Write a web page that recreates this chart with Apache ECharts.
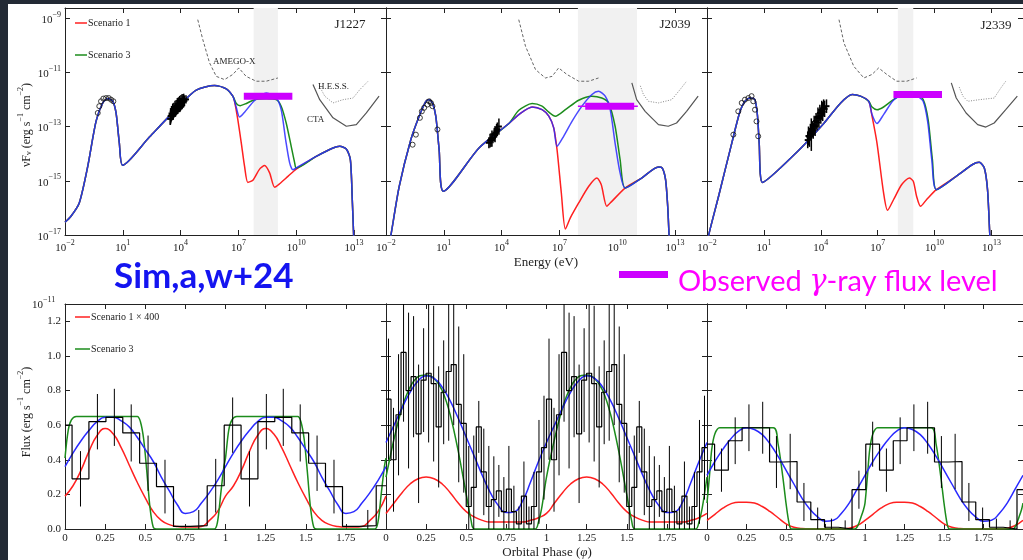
<!DOCTYPE html>
<html>
<head>
<meta charset="utf-8">
<script src="https://cdn.jsdelivr.net/npm/echarts@6/dist/echarts.min.js"></script>
<style>
  html, body { margin: 0; padding: 0; background: #232a35; }
  #chart { width: 1023px; height: 560px; }
</style>
</head>
<body>
<div id="chart"></div>
<script>
// ---------- top row: SED, stored as [log10(E / eV), log10(nuFnu)] ----------
const sources = ['J1227', 'J2039', 'J2339'];
const sedTicksX = [-2, 1, 4, 7, 10, 13];
const sedTicksY = [-17, -15, -13, -11, -9];

// J1227
const j1227Common = [[-2.0,-16.53],[-1.69,-16.31],[-1.26,-15.82],[-0.82,-14.47],[-0.39,-12.81],[-0.04,-12.13],[0.22,-11.97],[0.48,-12.07],[0.65,-12.5],[0.82,-13.61],[0.995,-14.43],[2.38,-13.39],[3.94,-12.23],[4.81,-11.66],[5.76,-11.49],[6.37,-11.61],[6.71,-11.88]];
const j1227Red = [[6.8,-12.07],[6.97,-12.75],[7.15,-13.61],[7.32,-14.47],[7.49,-15.06],[7.75,-14.98],[8.1,-14.57],[8.36,-14.44],[8.62,-14.71],[8.88,-15.24],[9.14,-15.11],[9.57,-14.84],[10.0,-14.57]];
const j1227Green = [[6.89,-12.15],[7.09,-12.23],[7.41,-12.15],[7.84,-12.01],[8.45,-11.98],[8.96,-12.01],[9.22,-12.25],[9.48,-12.87],[9.74,-13.73],[9.92,-14.34],[10.0,-14.53]];
const j1227Blue = [[6.89,-12.3],[7.06,-12.65],[7.32,-12.47],[7.84,-12.04],[8.45,-11.76],[8.96,-11.95],[9.22,-12.38],[9.45,-13.48],[9.66,-14.34],[9.83,-14.59],[10.0,-14.53]];
const j1227Tail = [[11.04,-14.1],[11.91,-13.79],[12.26,-13.73],[12.6,-13.83],[12.81,-14.22],[12.91,-15.7],[12.98,-17.0],[13.0,-17.5]];
const j1227Optical = [[-0.3,-12.5],[-0.22,-12.25],[-0.13,-12.07],[-0.01,-11.97],[0.13,-11.95],[0.27,-11.95],[0.39,-12.01],[0.51,-12.07]];
const j1227Xray = [[3.46,-12.72,0.22],[3.48,-12.62,0.3],[3.5,-12.6,0.25],[3.53,-12.52,0.28],[3.56,-12.55,0.2],[3.59,-12.45,0.3],[3.62,-12.5,0.25],[3.65,-12.4,0.28],[3.68,-12.42,0.22],[3.71,-12.35,0.3],[3.74,-12.38,0.25],[3.77,-12.3,0.28],[3.8,-12.33,0.2],[3.83,-12.25,0.3],[3.86,-12.28,0.25],[3.89,-12.2,0.28],[3.92,-12.24,0.22],[3.95,-12.17,0.3],[3.98,-12.2,0.25],[4.02,-12.12,0.28],[4.05,-12.15,0.2],[4.08,-12.08,0.28],[4.12,-12.1,0.22],[4.16,-12.04,0.25],[4.2,-12.05,0.2],[4.28,-12.0,0.15]];
const j1227Band = [7.79, 9.05];
const j1227Obs = [[7.28,-11.88],[9.8,-11.88]];

// J2039
const j2039Common = [[-1.9,-17.6],[-1.743,-17.0],[-1.313,-15.21],[-0.709,-13.48],[-0.278,-12.62],[0.067,-12.07],[0.239,-12.01],[0.412,-12.13],[0.584,-12.62],[0.757,-13.85],[0.981,-15.39],[2.825,-13.79],[4.377,-12.89]];
const j2039Red = [[4.894,-12.56],[5.584,-12.28],[6.1,-12.38],[6.45,-12.62],[6.705,-13.05],[6.877,-13.85],[7.1,-15.45],[7.31,-16.78],[7.567,-16.37],[8.0,-15.82],[8.515,-15.21],[8.946,-14.9],[9.17,-15.14],[9.46,-15.94],[9.72,-15.76],[10.41,-15.27]];
const j2039Green = [[4.894,-12.4],[5.584,-12.155],[6.1,-12.25],[6.45,-12.47],[6.79,-12.62],[7.31,-12.38],[8.0,-12.03],[8.687,-11.88],[9.2,-11.95],[9.55,-12.13],[9.89,-12.99],[10.15,-14.22],[10.41,-15.27]];
const j2039Blue = [[4.894,-12.56],[5.584,-12.28],[6.1,-12.38],[6.45,-12.62],[6.705,-13.05],[6.877,-13.73],[7.22,-13.36],[7.653,-12.81],[8.17,-12.25],[8.687,-11.82],[9.03,-11.7],[9.377,-11.88],[9.636,-12.38],[9.89,-13.61],[10.15,-14.71],[10.41,-15.27]];
const j2039Tail = [[11.27,-14.9],[12.14,-14.49],[12.34,-14.53],[12.51,-14.96],[12.62,-15.94],[12.69,-17.0],[12.72,-17.5]];
const j2039Optical = [[-0.62,-13.67],[-0.45,-13.3],[-0.24,-12.68],[-0.14,-12.44],[-0.02,-12.31],[0.15,-12.19],[0.24,-12.07],[0.33,-12.13],[0.41,-12.25],[0.67,-13.11]];
const j2039Xray = [[3.34,-13.6,0.2],[3.4,-13.52,0.25],[3.45,-13.5,0.25],[3.5,-13.45,0.3],[3.55,-13.42,0.2],[3.62,-13.3,0.25],[3.66,-13.28,0.3],[3.7,-13.22,0.2],[3.74,-13.15,0.25],[3.78,-13.1,0.25],[3.86,-13.0,0.3]];
const j2039Band = [7.96, 11.03];
const j2039Obs = [[8.34,-12.25],[10.88,-12.25]];
const j2039ObsThin = [[7.96,-12.25],[11.07,-12.25]];

// J2339
const j2339Common = [[-2.0,-17.4],[-1.911,-17.0],[-1.389,-15.57],[-0.693,-13.61],[-0.258,-12.44],[0.003,-12.07],[0.264,-11.95],[0.525,-12.01],[0.664,-12.62],[0.751,-13.61],[0.925,-15.06],[2.786,-13.91],[4.178,-12.87],[5.048,-12.13],[5.657,-11.82],[6.092,-11.88],[6.527,-12.07]];
const j2339Red = [[6.701,-12.62],[6.962,-13.61],[7.31,-15.45],[7.518,-16.09],[7.832,-15.7],[8.267,-15.14],[8.667,-14.9],[8.875,-15.02],[9.049,-15.57],[9.258,-15.94],[9.571,-15.7],[10.093,-15.33]];
const j2339Green = [[6.701,-12.28],[6.962,-12.38],[7.31,-12.28],[7.832,-12.01],[8.354,-11.82],[9.049,-11.86],[9.397,-12.01],[9.658,-12.75],[9.884,-14.22],[10.093,-15.33]];
const j2339Blue = [[6.701,-12.56],[6.962,-12.89],[7.31,-12.56],[7.832,-12.03],[8.354,-11.84],[9.049,-11.88],[9.397,-12.07],[9.64,-12.85],[9.85,-14.22],[10.093,-15.33]];
const j2339Tail = [[11.137,-14.84],[12.0,-14.4],[12.35,-14.32],[12.62,-14.53],[12.79,-15.33],[12.91,-17.0],[12.95,-17.5]];
const j2339Optical = [[-0.61,-13.3],[-0.35,-12.44],[-0.17,-12.13],[0.0,-12.01],[0.18,-11.95],[0.35,-11.88],[0.44,-12.07],[0.53,-12.38],[0.61,-12.81],[0.7,-13.36]];
const j2339Xray = [[3.31,-13.5,0.3],[3.35,-13.35,0.35],[3.4,-13.4,0.35],[3.45,-13.2,0.3],[3.5,-13.3,0.6],[3.55,-13.1,0.3],[3.6,-13.15,0.3],[3.65,-12.95,0.35],[3.7,-13.0,0.35],[3.75,-12.8,0.3],[3.8,-12.85,0.3],[3.85,-12.65,0.35],[3.9,-12.7,0.35],[3.95,-12.5,0.3],[4.0,-12.6,0.3],[4.05,-12.4,0.35],[4.1,-12.45,0.35],[4.15,-12.3,0.3],[4.2,-12.35,0.3],[4.3,-12.25,0.25]];
const j2339Band = [8.06, 8.875];
const j2339Obs = [[7.83,-11.82],[10.39,-11.82]];

// instrument sensitivities
const amego = [
  [[4.89,-9.06],[5.15,-9.79],[5.5,-10.65],[5.85,-11.15],[6.28,-11.27],[6.71,-11.08],[7.02,-10.84],[7.4,-11.15],[7.92,-11.33],[8.44,-11.33],[9.05,-11.21]],
  [[4.89,-9.06],[5.24,-10.04],[5.76,-10.9],[6.27,-11.21],[6.62,-11.15],[6.96,-10.84],[7.39,-11.08],[8.0,-11.33],[8.52,-11.33],[9.03,-11.21]],
  [[4.96,-9.06],[5.22,-9.92],[5.74,-10.78],[6.27,-11.21],[6.7,-11.08],[7.05,-10.84],[7.48,-11.08],[8.0,-11.33],[8.53,-11.33],[9.05,-11.21]]
];
const hess = [
  [[11.2,-11.5],[11.48,-11.88],[11.91,-12.13],[12.43,-12.01],[12.95,-11.95],[13.3,-11.64],[13.73,-11.33]],
  [[11.2,-11.5],[11.36,-11.82],[11.62,-12.07],[12.14,-12.13],[12.83,-12.01],[13.26,-11.64],[13.6,-11.33]],
  [[11.3,-11.55],[11.49,-11.88],[11.75,-12.07],[12.36,-12.01],[13.14,-11.95],[13.49,-11.58],[13.75,-11.33]]
];
const cta = [
  [[10.87,-11.45],[11.22,-12.01],[11.91,-12.68],[12.6,-12.99],[13.12,-12.93],[13.64,-12.5],[14.3,-11.88]],
  [[10.76,-11.39],[11.01,-12.01],[11.45,-12.44],[12.14,-12.93],[12.65,-12.99],[13.08,-12.87],[13.6,-12.44],[14.2,-11.88]],
  [[10.88,-11.39],[11.14,-11.95],[11.66,-12.5],[12.27,-12.93],[12.7,-13.02],[13.14,-12.87],[13.75,-12.38],[14.36,-11.88]]
];

// ---------- bottom row: light curves, flux in 1e-11 erg/s/cm2 ----------
const phaseTicks = [0, 0.25, 0.5, 0.75, 1, 1.25, 1.5, 1.75];
const fluxTicks = [0, 0.2, 0.4, 0.6, 0.8, 1.0, 1.2];
const cyclePhase = [0,0.05,0.1,0.15,0.2,0.25,0.3,0.35,0.4,0.45,0.5,0.55,0.6,0.65,0.7,0.75,0.8,0.85,0.9,0.95];

const red1 = [0.19,0.25,0.34,0.45,0.54,0.58,0.55,0.47,0.37,0.27,0.18,0.10,0.05,0.025,0.015,0.012,0.012,0.015,0.05,0.10];
const blue1 = [0.36,0.44,0.51,0.57,0.62,0.645,0.645,0.625,0.59,0.53,0.46,0.39,0.30,0.22,0.14,0.09,0.10,0.15,0.21,0.28];
const green1 = [[0,0.41],[0.02,0.57],[0.04,0.63],[0.07,0.65],[0.45,0.65],[0.47,0.62],[0.49,0.52],[0.51,0.33],[0.53,0.12],[0.55,0.01],[0.57,0],[0.93,0],[0.95,0.04],[0.97,0.2],[0.99,0.36]];
const red2 = [0.09,0.15,0.21,0.26,0.29,0.30,0.29,0.26,0.21,0.15,0.10,0.07,0.05,0.04,0.04,0.04,0.04,0.04,0.05,0.065];
const blue2 = [0.50,0.60,0.70,0.79,0.855,0.885,0.87,0.82,0.74,0.64,0.53,0.42,0.31,0.21,0.135,0.095,0.10,0.16,0.27,0.39];
const green2 = [[0,0.30],[0.05,0.52],[0.1,0.70],[0.15,0.82],[0.2,0.88],[0.25,0.89],[0.3,0.87],[0.35,0.80],[0.4,0.66],[0.45,0.45],[0.5,0.20],[0.53,0.05],[0.55,0],[0.93,0],[0.95,0.04],[0.97,0.12]];
const red3 = [0.05,0.085,0.12,0.145,0.155,0.155,0.15,0.13,0.10,0.065,0.03,0.01,0.003,0.002,0.002,0.002,0.002,0.002,0.005,0.02];
const blue3 = [0.31,0.39,0.46,0.52,0.565,0.585,0.575,0.545,0.49,0.42,0.34,0.26,0.18,0.115,0.07,0.045,0.05,0.09,0.15,0.23];
const green3 = [[0,0.15],[0.015,0.30],[0.03,0.46],[0.05,0.55],[0.08,0.585],[0.42,0.585],[0.45,0.49],[0.48,0.30],[0.5,0.15],[0.52,0.03],[0.535,0],[0.935,0],[0.955,0.02],[0.975,0.07],[0.99,0.11]];

// binned data: bin edges, level per bin, error half-size per bin (null = no bar)
const lc1Edges = [0,0.044,0.149,0.255,0.36,0.465,0.57,0.676,0.781,0.886,0.992,1.097,1.202,1.307,1.413,1.518,1.623,1.729,1.834,1.939,2.0];
const lc1Level = [0.60,0.29,0.62,0.645,0.555,0.38,0.245,0.015,0.02,0.25,0.60,0.29,0.62,0.645,0.555,0.38,0.245,0.015,0.02,0.25];
const lc1Err = [null,0.16,0.16,0.165,0.165,0.16,0.155,null,0.09,0.155,0.16,0.16,0.16,0.165,0.165,0.16,0.155,null,0.09,null];

const lc2Edges = [0,0.03125,0.0625,0.09375,0.125,0.15625,0.1875,0.21875,0.25,0.28125,0.3125,0.34375,0.375,0.40625,0.4375,0.46875,0.5,0.53125,0.5625,0.59375,0.625,0.65625,0.6875,0.71875,0.75,0.78125,0.8125,0.84375,0.875,0.90625,0.9375,0.96875,
  1,1.03125,1.0625,1.09375,1.125,1.15625,1.1875,1.21875,1.25,1.28125,1.3125,1.34375,1.375,1.40625,1.4375,1.46875,1.5,1.53125,1.5625,1.59375,1.625,1.65625,1.6875,1.71875,1.75,1.78125,1.8125,1.84375,1.875,1.90625,1.9375,1.96875,2.0];
const lc2Level = [0.75,0.40,0.66,1.02,0.80,0.88,0.55,0.86,0.90,0.84,0.59,0.79,0.91,0.95,0.72,0.61,0.13,0.24,0.59,0.33,0.13,0.17,0.22,0.10,0.23,0.10,0.03,0.19,0.03,0.13,0.33,0.47,
  0.75,0.40,0.66,1.02,0.80,0.88,0.55,0.86,0.90,0.84,0.59,0.79,0.91,0.95,0.72,0.61,0.13,0.24,0.59,0.33,0.13,0.17,0.22,0.10,0.23,0.10,0.03,0.19,0.03,0.13,0.33,0.47];
const lc2Err = [0.35,0.3,0.35,0.4,0.45,0.35,0.4,0.3,0.4,0.45,0.35,0.3,0.4,0.35,0.45,0.4,0.35,0.3,0.15,0.25,0.35,0.25,0.15,0.2,0.25,0.15,0.1,0.2,0.1,0.2,0.3,0.3,
  0.35,0.3,0.35,0.4,0.45,0.35,0.4,0.3,0.4,0.45,0.35,0.3,0.4,0.35,0.45,0.4,0.35,0.3,0.15,0.25,0.35,0.25,0.15,0.2,0.25,0.15,0.1,0.2,0.1,0.2,0.3,0.3];

const lc3Edges = [0,0.048,0.135,0.222,0.309,0.396,0.483,0.57,0.657,0.744,0.831,0.918,1.005,1.092,1.179,1.266,1.353,1.44,1.527,1.614,1.701,1.788,1.875,1.962,2.0];
const lc3Level = [0.49,0.34,0.51,0.585,0.585,0.387,0.39,0.156,0.054,0.01,0.0,0.227,0.49,0.34,0.51,0.585,0.585,0.387,0.39,0.156,0.054,0.01,0.0,0.227];
const lc3Err = [null,0.125,0.135,0.135,0.15,0.15,0.16,0.11,0.07,0.05,0.05,0.11,0.13,0.125,0.135,0.135,0.15,0.15,0.16,0.11,0.07,0.05,0.05,null];

// ---------- layout ----------
const SERIF = '"Liberation Serif","DejaVu Serif",serif';
const INK = '#222';
const RED = '#ff2020', GREEN = '#1c8c1c', BLUE = '#2a2aff', OBS = '#cc00ff', PINK = '#ff00ff';
const colLeft = [65, 386, 707];
const colW = 321;
const sedRange = { x: [-2, 14.66], y: [-17, -8.63] };
const lcRange = { x: [0, 2], y: [0, 1.3] };

const grids = [];
const xAxes = [];
const yAxes = [];
const series = [];

const supRich = {
  b: { fontSize: 11, fontFamily: SERIF, color: INK, fill: INK, verticalAlign: 'bottom', padding: [4, 0, 0, 0] },
  s: { fontSize: 8, fontFamily: SERIF, color: INK, fill: INK, verticalAlign: 'top' }
};
const powFmt = v => '{b|10}{s|' + String(v).replace('-', '\u2212') + '}';

function addAxes(g, range, xt, yt, xFmt, yFmt, showY) {
  const common = {
    type: 'value', gridIndex: g, splitLine: { show: false },
    axisLine: { show: true, onZero: false, lineStyle: { color: INK, width: 1 } }
  };
  const tick = vals => ({ show: true, inside: true, length: 5, customValues: vals, lineStyle: { color: INK } });
  const lab = (vals, fmt, show) => ({
    show, customValues: vals, formatter: fmt, interval: 0, rich: supRich,
    color: INK, fontFamily: SERIF, fontSize: 11, margin: 4
  });
  xAxes.push(Object.assign({}, common, { min: range.x[0], max: range.x[1], position: 'bottom', axisTick: tick(xt), axisLabel: lab(xt, xFmt, true) }));
  xAxes.push(Object.assign({}, common, { min: range.x[0], max: range.x[1], position: 'top', axisTick: tick(xt), axisLabel: { show: false } }));
  yAxes.push(Object.assign({}, common, { min: range.y[0], max: range.y[1], position: 'left', axisTick: tick(yt), axisLabel: lab(yt, yFmt, showY) }));
  yAxes.push(Object.assign({}, common, { min: range.y[0], max: range.y[1], position: 'right', axisTick: tick(yt), axisLabel: { show: false } }));
}

function addLine(g, data, color, width, extra) {
  series.push(Object.assign({
    type: 'line', xAxisIndex: 2 * g, yAxisIndex: 2 * g, data, symbol: 'none',
    clip: true, silent: true, z: 3, lineStyle: { color, width }
  }, extra || {}));
}

function addErrors(g, data, hw, z, lw) {
  series.push({
    type: 'custom', xAxisIndex: 2 * g, yAxisIndex: 2 * g, clip: true, silent: true, z: z || 4,
    encode: { x: 0, y: [1, 2] }, data,
    renderItem: (params, api) => {
      const x = api.value(0);
      const a = api.coord([x, api.value(1)]);
      const b = api.coord([x, api.value(2)]);
      const kids = [{ type: 'line', shape: { x1: a[0], y1: a[1], x2: b[0], y2: b[1] }, style: { stroke: '#000', lineWidth: lw || 1 } }];
      if (hw) {
        const m = api.coord([x, (api.value(1) + api.value(2)) / 2]);
        kids.push({ type: 'line', shape: { x1: m[0] - hw, y1: m[1], x2: m[0] + hw, y2: m[1] }, style: { stroke: '#000', lineWidth: 2 } });
      }
      return { type: 'group', children: kids };
    }
  });
}

function addBand(g, band, range) {
  series.push({
    type: 'custom', xAxisIndex: 2 * g, yAxisIndex: 2 * g, clip: true, silent: true, z: 1,
    encode: { x: [0, 1] }, data: [band],
    renderItem: (params, api) => {
      const a = api.coord([api.value(0), range.y[1]]);
      const b = api.coord([api.value(1), range.y[0]]);
      return { type: 'rect', shape: { x: a[0], y: a[1], width: b[0] - a[0], height: b[1] - a[1] }, style: { fill: '#f1f1f1' } };
    }
  });
}

// ---------- SED panels ----------
const sedSets = [
  [j1227Common, j1227Red, j1227Green, j1227Blue, j1227Tail, j1227Optical, j1227Xray, j1227Band, j1227Obs],
  [j2039Common, j2039Red, j2039Green, j2039Blue, j2039Tail, j2039Optical, j2039Xray, j2039Band, j2039Obs],
  [j2339Common, j2339Red, j2339Green, j2339Blue, j2339Tail, j2339Optical, j2339Xray, j2339Band, j2339Obs]
];

sedSets.forEach((s, g) => {
  const [common, red, green, blue, tail, optical, xray, band, obs] = s;
  grids.push({ left: colLeft[g], top: 8, width: colW, height: 227 });
  addAxes(g, sedRange, sedTicksX, sedTicksY, powFmt, powFmt, g === 0);
  addBand(g, band, sedRange);
  addLine(g, amego[g], '#666', 1, { lineStyle: { color: '#666', width: 1, type: [3, 2] } });
  addLine(g, hess[g], '#888', 1, { lineStyle: { color: '#888', width: 1, type: [1, 1.5] } });
  addLine(g, cta[g], '#555', 1.2);
  addLine(g, common.concat(red, tail), RED, 1.5, { smooth: 0.25 });
  addLine(g, common.concat(green, tail), GREEN, 1.5, { smooth: 0.25 });
  addLine(g, common.concat(blue, tail), BLUE, 1.5, { smooth: 0.25, lineStyle: { color: BLUE, width: 1.5, opacity: 0.85 } });
  addLine(g, obs, OBS, 7, { z: 6, lineStyle: { color: OBS, width: 7, cap: 'butt' } });
  if (g === 1) addLine(g, j2039ObsThin, OBS, 2, { z: 6, lineStyle: { color: OBS, width: 1.5, cap: 'butt' } });
  series.push({
    type: 'scatter', xAxisIndex: 2 * g, yAxisIndex: 2 * g, data: optical, symbol: 'circle', symbolSize: 5,
    silent: true, z: 5, itemStyle: { color: 'rgba(255,255,255,0)', borderColor: '#111', borderWidth: 1 }
  });
  addErrors(g, xray.map(p => [p[0], p[1] - p[2], p[1] + p[2]]), 3, 5, 1.5);
});

// ---------- light-curve panels ----------
function twoCycles(vals) {
  const out = [];
  [0, 1].forEach(c => cyclePhase.forEach((p, i) => out.push([p + c, vals[i]])));
  out.push([2, vals[0]]);
  return out;
}
function twoCyclePairs(pairs) {
  const out = [];
  [0, 1].forEach(c => pairs.forEach(p => out.push([p[0] + c, p[1]])));
  out.push([2, pairs[0][1]]);
  return out;
}
function steps(edges, level) {
  const pts = level.map((v, i) => [edges[i], v]);
  pts.push([edges[edges.length - 1], level[level.length - 1]]);
  return pts;
}
function binBars(edges, level, err) {
  const out = [];
  level.forEach((v, i) => {
    if (err[i] == null) return;
    const c = (edges[i] + edges[i + 1]) / 2;
    out.push([c, Math.max(0, v - err[i]), v + err[i]]);
  });
  return out;
}

const lcSets = [
  [red1, green1, blue1, lc1Edges, lc1Level, lc1Err],
  [red2, green2, blue2, lc2Edges, lc2Level, lc2Err],
  [red3, green3, blue3, lc3Edges, lc3Level, lc3Err]
];
const fmtPhase = v => (v === 2 ? '' : String(v));
const fmtFlux = v => v.toFixed(1);

lcSets.forEach((s, k) => {
  const g = k + 3;
  const [red, green, blue, edges, level, err] = s;
  grids.push({ left: colLeft[k], top: 304, width: colW, height: 225 });
  addAxes(g, lcRange, phaseTicks, fluxTicks, fmtPhase, fmtFlux, k === 0);
  addErrors(g, binBars(edges, level, err), 0, 4);
  addLine(g, steps(edges, level), '#000', 1.2, { step: 'end', z: 4 });
  addLine(g, twoCycles(red), RED, 1.5, { smooth: true });
  addLine(g, twoCyclePairs(green), GREEN, 1.5, { smooth: 0.3 });
  addLine(g, twoCycles(blue), BLUE, 1.5, { smooth: true });
});

// ---------- text and decorations ----------
const axisRich = {
  a: { fontSize: 12, fontFamily: SERIF, fill: INK, verticalAlign: 'bottom', padding: [4, 0, 0, 0] },
  sup: { fontSize: 8, fontFamily: SERIF, fill: INK, verticalAlign: 'top' },
  sub: { fontSize: 8, fontFamily: SERIF, fill: INK, verticalAlign: 'bottom' }
};
const txt = (x, y, text, size, align) => ({
  type: 'text', x, y, silent: true, z: 20,
  style: { text, fill: INK, font: size + 'px ' + SERIF, align: align || 'left', verticalAlign: 'middle' }
});
const seg = (x1, x2, y, color) => ({
  type: 'line', silent: true, z: 20, shape: { x1, y1: y, x2, y2: y }, style: { stroke: color, lineWidth: 1.5 }
});

const graphic = [
  { type: 'rect', silent: true, z: 30, shape: { x: 0, y: 0, width: 8, height: 560 }, style: { fill: '#232a35' } },
  { type: 'rect', silent: true, z: 30, shape: { x: 0, y: 0, width: 1023, height: 4 }, style: { fill: '#232a35' } },
  txt(350, 25, sources[0], 13, 'center'),
  txt(675, 25, sources[1], 13, 'center'),
  txt(996, 26, sources[2], 13, 'center'),
  seg(75, 87, 23, RED), txt(88, 23, 'Scenario 1', 10),
  seg(75, 87, 55, GREEN), txt(88, 55, 'Scenario 3', 10),
  seg(75, 90, 317, RED), txt(91, 317, 'Scenario 1 \u00d7 400', 10),
  seg(75, 90, 349, GREEN), txt(91, 349, 'Scenario 3', 10),
  txt(213, 62, 'AMEGO-X', 9),
  txt(318, 87, 'H.E.S.S.', 9),
  txt(307, 120, 'CTA', 9),
  txt(546, 263, 'Energy (eV)', 13, 'center'),
  {
    type: 'text', x: 547, y: 553, silent: true, z: 20,
    style: {
      text: '{a|Orbital Phase (}{i|\u03c6}{a|)}', align: 'center', verticalAlign: 'middle',
      rich: { a: { fontSize: 13, fontFamily: SERIF, fill: INK }, i: { fontSize: 13, fontFamily: SERIF, fontStyle: 'italic', fill: INK } }
    }
  },
  {
    type: 'text', x: 25, y: 125, rotation: Math.PI / 2, silent: true, z: 20,
    style: { text: '{a|\u03bdF}{sub|\u03bd}{a| (erg s}{sup|\u22121}{a| cm}{sup|\u22122}{a|)}', align: 'center', verticalAlign: 'middle', rich: axisRich }
  },
  {
    type: 'text', x: 25, y: 412, rotation: Math.PI / 2, silent: true, z: 20,
    style: { text: '{a|Flux (erg s}{sup|\u22121}{a| cm}{sup|\u22122}{a|)}', align: 'center', verticalAlign: 'middle', rich: axisRich }
  },
  {
    type: 'text', x: 32, y: 303, silent: true, z: 20,
    style: { text: '{b|10}{s|\u221211}', align: 'left', verticalAlign: 'middle', rich: supRich }
  },
  {
    type: 'text', x: 114, y: 277, silent: true, z: 20,
    style: { text: 'Sim,a,w+24', fill: '#1414f0', font: 'bold 35px Lato, "Open Sans", sans-serif', align: 'left', verticalAlign: 'middle' }
  },
  { type: 'rect', silent: true, z: 20, shape: { x: 619, y: 271, width: 49, height: 7 }, style: { fill: OBS } },
  {
    type: 'text', x: 678, y: 282, silent: true, z: 20,
    style: {
      text: '{a|Observed }{g|\u03b3}{a|-ray flux level}', align: 'left', verticalAlign: 'middle',
      rich: {
        a: { fontSize: 29, fontFamily: 'Lato, "Open Sans", sans-serif', fill: PINK },
        g: { fontSize: 29, fontFamily: '"DejaVu Serif", serif', fontStyle: 'italic', fill: PINK }
      }
    }
  }
];

const chart = echarts.init(document.getElementById('chart'), null, { renderer: 'canvas' });
chart.setOption({
  backgroundColor: '#ffffff',
  animation: false,
  grid: grids,
  xAxis: xAxes,
  yAxis: yAxes,
  series,
  graphic
});
</script>
</body>
</html>
